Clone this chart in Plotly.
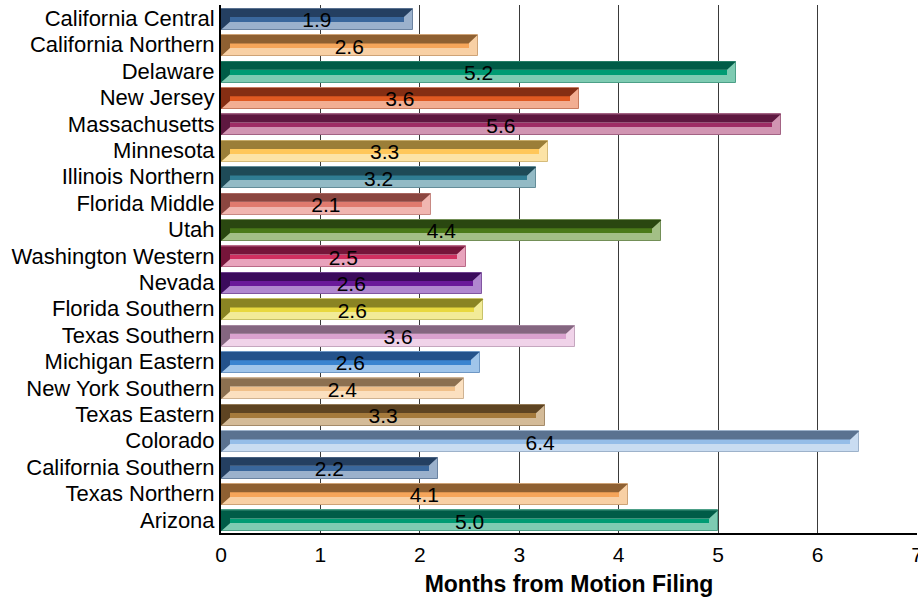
import plotly.graph_objects as go

# ---- data ----
districts = ["California Central", "California Northern", "Delaware", "New Jersey",
             "Massachusetts", "Minnesota", "Illinois Northern", "Florida Middle",
             "Utah", "Washington Western", "Nevada", "Florida Southern",
             "Texas Southern", "Michigan Eastern", "New York Southern", "Texas Eastern",
             "Colorado", "California Southern", "Texas Northern", "Arizona"]
months = [1.93, 2.58, 5.18, 3.60, 5.63, 3.29, 3.17, 2.11, 4.43, 2.46,
          2.62, 2.64, 3.56, 2.60, 2.44, 3.26, 6.42, 2.18, 4.09, 5.00]
x_ticks = [0, 1, 2, 3, 4, 5, 6, 7]

# ---- styles (dark top face, mid band, light front) ----
dark = ["#243F61", "#8E6032", "#005C47", "#852E13", "#5E1840", "#9B7E38", "#1E4A57",
        "#8B4640", "#2A4710", "#76153A", "#3B0B5C", "#8A8423", "#846680", "#24528B",
        "#8C7050", "#5E4422", "#5A7290", "#243F61", "#8E6032", "#005C47"]
mid = ["#3A679C", "#F5A55A", "#009B73", "#E05A22", "#9E2D65", "#FFC75A", "#307D93",
       "#E07A6E", "#4B7A19", "#D03060", "#6A1A9A", "#E8D840", "#DAA2CF", "#3A84D0",
       "#F0C08A", "#A57A3C", "#95BDE8", "#3A679C", "#F5A55A", "#009B73"]
light = ["#9BB1CC", "#F8D0A5", "#7ECBB2", "#F2AE92", "#D195B2", "#FCE3A6", "#93BAC5",
         "#F0B6B0", "#A3BF86", "#E8A3BC", "#B088CF", "#F2EB98", "#F0D3E9", "#A0C5EA",
         "#FBE0C0", "#D4BB98", "#C9DCF1", "#9BB1CC", "#F8D0A5", "#7ECBB2"]


def blend(c1, c2, t):
    a = [int(c1[i:i + 2], 16) for i in (1, 3, 5)]
    b = [int(c2[i:i + 2], 16) for i in (1, 3, 5)]
    return "#" + "".join(f"{round(a[k] + (b[k] - a[k]) * t):02X}" for k in range(3))


W, H = 918, 607
ML, MR, MT, MB = 221, 1, 5, 74
XMAX = 7
depth = 9 * XMAX / (W - ML - MR)   # bevel depth in data units (~9 px)
yt, yms, yls, yb = -0.36, -0.045, 0.133, 0.437  # band edges relative to category centre

FONT = "Arial, Liberation Sans, sans-serif"
n = len(districts)
pos = list(range(n))

fig = go.Figure()

# light front (base bar)
fig.add_trace(go.Bar(
    y=pos, x=months, orientation="h",
    offset=yt, width=yb - yt,
    marker=dict(color=light, line=dict(color=[blend(l, d, 0.4) for l, d in zip(light, dark)], width=1)),
    hoverinfo="skip", showlegend=False))

# mid band
fig.add_trace(go.Bar(
    y=pos, x=[v - 2 * depth for v in months], base=[depth] * n, orientation="h",
    offset=yms, width=yls - yms,
    marker=dict(color=mid, line=dict(width=0)),
    hoverinfo="skip", showlegend=False))

# dark top face with bevels
for i, v in enumerate(months):
    xs = [0, v, v - depth, depth, depth, 0, 0]
    ys = [i + yt, i + yt, i + yms, i + yms, i + yls, i + yb, i + yt]
    fig.add_trace(go.Scatter(
        x=xs, y=ys, mode="lines", fill="toself", fillcolor=dark[i],
        line=dict(width=0, color=dark[i]), hoverinfo="skip", showlegend=False))

# value labels
fig.add_trace(go.Scatter(
    x=[v / 2 for v in months], y=[p + 0.14 for p in pos], mode="text",
    text=[f"{v:.1f}" for v in months], textposition="middle center",
    textfont=dict(family=FONT, size=21, color="black"),
    hoverinfo="skip", showlegend=False))

fig.update_layout(
    width=W, height=H,
    margin=dict(l=ML, r=MR, t=MT, b=MB, autoexpand=False),
    paper_bgcolor="white", plot_bgcolor="white",
    barmode="overlay", bargap=0,
    font=dict(family=FONT, size=22, color="black"),
    xaxis=dict(range=[0, XMAX], tickvals=x_ticks, ticktext=[str(t) for t in x_ticks],
               automargin=False, ticklabeloverflow="allow",
               showgrid=True, gridcolor="#3A3A3A", gridwidth=1,
               showline=True, linecolor="black", linewidth=2, zeroline=False,
               ticks="", ticklabelstandoff=2,
               tickfont=dict(family=FONT, size=21, color="black"),
               title=dict(text="<b>Months from Motion Filing</b>", standoff=11,
                          font=dict(family=FONT, size=23, color="black"))),
    yaxis=dict(range=[n - 0.5, -0.5], tickvals=pos, ticktext=districts,
               automargin=False,
               showgrid=False, zeroline=False,
               showline=True, linecolor="black", linewidth=2,
               ticks="", ticklabelstandoff=0,
               tickfont=dict(family=FONT, size=22, color="black")),
)

fig.write_html("out.html", config={"displayModeBar": False},
               post_script="document.body.style.margin='0px';")
